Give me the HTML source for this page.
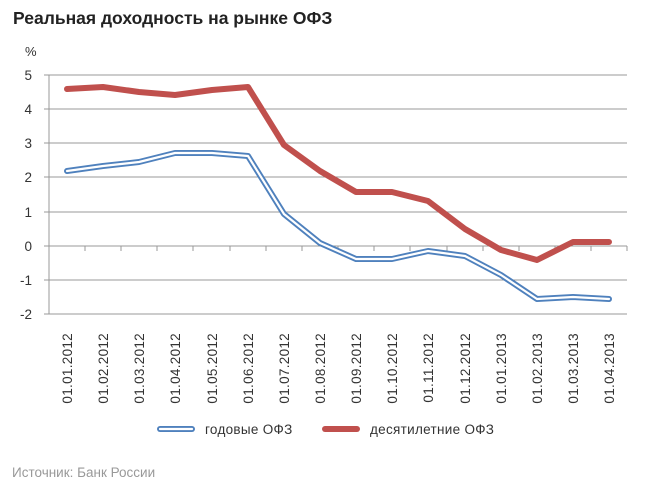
<!DOCTYPE html><html><head><meta charset="utf-8"><style>body{margin:0;background:#fff;width:670px;height:495px;overflow:hidden}</style></head><body>
<svg width="670" height="495" xmlns="http://www.w3.org/2000/svg" font-family="Liberation Sans, DejaVu Sans, sans-serif">
<text x="13" y="24" font-size="17.5" font-weight="bold" fill="#222">Реальная доходность на рынке ОФЗ</text>
<text x="25" y="56" font-size="13" fill="#333">%</text>
<g stroke="#999" stroke-width="1">
<line x1="44" y1="75" x2="627" y2="75"/><line x1="44" y1="109" x2="627" y2="109"/><line x1="44" y1="143" x2="627" y2="143"/><line x1="44" y1="177" x2="627" y2="177"/><line x1="44" y1="212" x2="627" y2="212"/><line x1="44" y1="246" x2="627" y2="246"/><line x1="44" y1="280" x2="627" y2="280"/><line x1="44" y1="314" x2="627" y2="314"/>
<line x1="49" y1="75" x2="49" y2="314"/>
</g>
<g font-size="13.5" fill="#333" text-anchor="end">
<text x="32" y="80">5</text><text x="32" y="114">4</text><text x="32" y="148">3</text><text x="32" y="182">2</text><text x="32" y="217">1</text><text x="32" y="251">0</text><text x="32" y="285">-1</text><text x="32" y="319">-2</text>
</g>
<g stroke="#999">
<path d="M85 246v5M121 246v5M157 246v5M193 246v5M230 246v5M266 246v5M302 246v5M338 246v5M374 246v5M410 246v5M447 246v5M483 246v5M519 246v5M555 246v5M591 246v5M627 246v5"/>
</g>
<g fill="none" stroke-linejoin="round" stroke-linecap="round">
<polyline stroke="#c0504d" stroke-width="6" points="67,89 103,87 139,92 175,95 212,90 248,87 284,145 320,171 356,192 392,192 428,201 465,229 501,250 537,260 573,242 609,242"/>
<polyline stroke="#4f81bd" stroke-width="6" points="67,171 103,166 139,162 175,153 212,153 248,156 284,214 320,243 356,259 392,259 428,251 465,256 501,275 537,299 573,297 609,299"/>
<polyline stroke="#fff" stroke-width="2.2" points="67,171 103,166 139,162 175,153 212,153 248,156 284,214 320,243 356,259 392,259 428,251 465,256 501,275 537,299 573,297 609,299"/>
</g>
<g font-size="13.5" fill="#333" text-anchor="end" letter-spacing="0.3">
<text transform="translate(72,333) rotate(-90)">01.01.2012</text>
<text transform="translate(108,333) rotate(-90)">01.02.2012</text>
<text transform="translate(144,333) rotate(-90)">01.03.2012</text>
<text transform="translate(180,333) rotate(-90)">01.04.2012</text>
<text transform="translate(217,333) rotate(-90)">01.05.2012</text>
<text transform="translate(253,333) rotate(-90)">01.06.2012</text>
<text transform="translate(289,333) rotate(-90)">01.07.2012</text>
<text transform="translate(325,333) rotate(-90)">01.08.2012</text>
<text transform="translate(361,333) rotate(-90)">01.09.2012</text>
<text transform="translate(397,333) rotate(-90)">01.10.2012</text>
<text transform="translate(433,333) rotate(-90)">01.11.2012</text>
<text transform="translate(470,333) rotate(-90)">01.12.2012</text>
<text transform="translate(506,333) rotate(-90)">01.01.2013</text>
<text transform="translate(542,333) rotate(-90)">01.02.2013</text>
<text transform="translate(578,333) rotate(-90)">01.03.2013</text>
<text transform="translate(614,333) rotate(-90)">01.04.2013</text>
</g>
<line x1="160" y1="429" x2="192" y2="429" stroke="#4f81bd" stroke-width="6" stroke-linecap="round"/>
<line x1="160" y1="429" x2="192" y2="429" stroke="#fff" stroke-width="2.2" stroke-linecap="round"/>
<text x="205" y="434" font-size="13.5" fill="#333" letter-spacing="0.3">годовые ОФЗ</text>
<line x1="325" y1="429" x2="357" y2="429" stroke="#c0504d" stroke-width="6" stroke-linecap="round"/>
<text x="370" y="434" font-size="13.5" fill="#333" letter-spacing="0.3">десятилетние ОФЗ</text>
<text x="12" y="477" font-size="13.5" fill="#999">Источник: Банк России</text>
</svg>
</body></html>
